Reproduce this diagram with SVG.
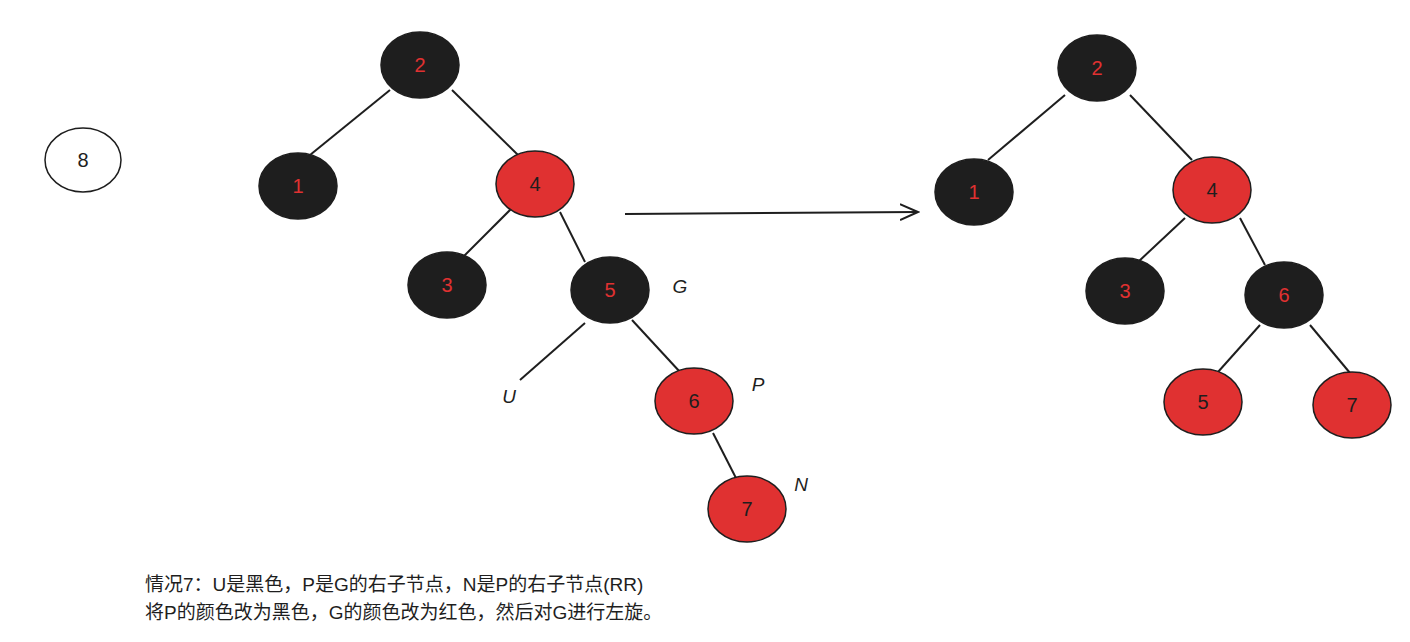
<svg xmlns="http://www.w3.org/2000/svg" width="1410" height="642" viewBox="0 0 1410 642">
<style>
.b{fill:#1e1e1e;stroke:#1e1e1e;stroke-width:1.5}
.r{fill:#e03131;stroke:#1e1e1e;stroke-width:1.5}
.w{fill:#fff;stroke:#1e1e1e;stroke-width:1.5}
text{font-family:"Liberation Sans","Noto Sans CJK SC",sans-serif;font-size:20px;text-anchor:middle;dominant-baseline:central}
.tr{fill:#e03131}.tb{fill:#1e1e1e}
.lab{font-style:italic;font-size:19px;fill:#1e1e1e}
.cap{font-size:19px;text-anchor:start;fill:#1e1e1e}
line{stroke:#1e1e1e;stroke-width:2}
</style>
<defs><marker id="a" markerWidth="20" markerHeight="20" refX="18" refY="10" orient="auto" markerUnits="userSpaceOnUse"><path d="M0,2 L18,10 L0,18" fill="none" stroke="#1e1e1e" stroke-width="2"/></marker></defs>
<g id="connectors">
<line x1="390" y1="90" x2="310" y2="155"/><line x1="452" y1="90" x2="518" y2="155"/>
<line x1="512" y1="208" x2="462" y2="258"/><line x1="560" y1="212" x2="585" y2="262"/>
<line x1="585" y1="323" x2="520" y2="380"/><line x1="632" y1="320" x2="680" y2="372"/>
<line x1="713" y1="433" x2="737" y2="480"/>
<line x1="625" y1="214" x2="918" y2="212" marker-end="url(#a)"/>
<line x1="1065" y1="95" x2="988" y2="160"/><line x1="1130" y1="95" x2="1192" y2="160"/>
<line x1="1185" y1="218" x2="1138" y2="262"/><line x1="1240" y1="218" x2="1265" y2="265"/>
<line x1="1260" y1="325" x2="1218" y2="372"/><line x1="1310" y1="325" x2="1350" y2="373"/>
</g>
<g id="n8"><ellipse class="w" cx="83" cy="160" rx="38" ry="32"/><text class="tb" x="83" y="160">8</text></g>
<g id="L2"><ellipse class="b" cx="420" cy="65" rx="39" ry="33"/><text class="tr" x="420" y="65">2</text></g>
<g id="L1"><ellipse class="b" cx="298" cy="186" rx="39" ry="33"/><text class="tr" x="298" y="186">1</text></g>
<g id="L4"><ellipse class="r" cx="535" cy="184" rx="39" ry="33"/><text class="tb" x="535" y="184">4</text></g>
<g id="L3"><ellipse class="b" cx="447" cy="285" rx="39" ry="33"/><text class="tr" x="447" y="285">3</text></g>
<g id="L5"><ellipse class="b" cx="610" cy="290" rx="39" ry="33"/><text class="tr" x="610" y="290">5</text></g>
<g id="L6"><ellipse class="r" cx="694" cy="401" rx="39" ry="33"/><text class="tb" x="694" y="401">6</text></g>
<g id="L7"><ellipse class="r" cx="747" cy="509" rx="39" ry="33"/><text class="tb" x="747" y="509">7</text></g>
<g id="labels">
<text class="lab" x="680" y="286">G</text><text class="lab" x="758" y="384">P</text>
<text class="lab" x="509" y="396">U</text><text class="lab" x="801" y="484">N</text>
</g>
<g id="R2"><ellipse class="b" cx="1097" cy="68" rx="39" ry="33"/><text class="tr" x="1097" y="68">2</text></g>
<g id="R1"><ellipse class="b" cx="974" cy="192" rx="39" ry="33"/><text class="tr" x="974" y="192">1</text></g>
<g id="R4"><ellipse class="r" cx="1212" cy="190" rx="39" ry="33"/><text class="tb" x="1212" y="190">4</text></g>
<g id="R3"><ellipse class="b" cx="1125" cy="291" rx="39" ry="33"/><text class="tr" x="1125" y="291">3</text></g>
<g id="R6"><ellipse class="b" cx="1284" cy="295" rx="39" ry="33"/><text class="tr" x="1284" y="295">6</text></g>
<g id="R5"><ellipse class="r" cx="1203" cy="402" rx="39" ry="33"/><text class="tb" x="1203" y="402">5</text></g>
<g id="R7"><ellipse class="r" cx="1352" cy="405" rx="39" ry="33"/><text class="tb" x="1352" y="405">7</text></g>
<g id="caption">
<text class="cap" x="145" y="584">情况7：U是黑色，P是G的右子节点，N是P的右子节点(RR)</text>
<text class="cap" x="145" y="612">将P的颜色改为黑色，G的颜色改为红色，然后对G进行左旋。</text>
</g>
</svg>
